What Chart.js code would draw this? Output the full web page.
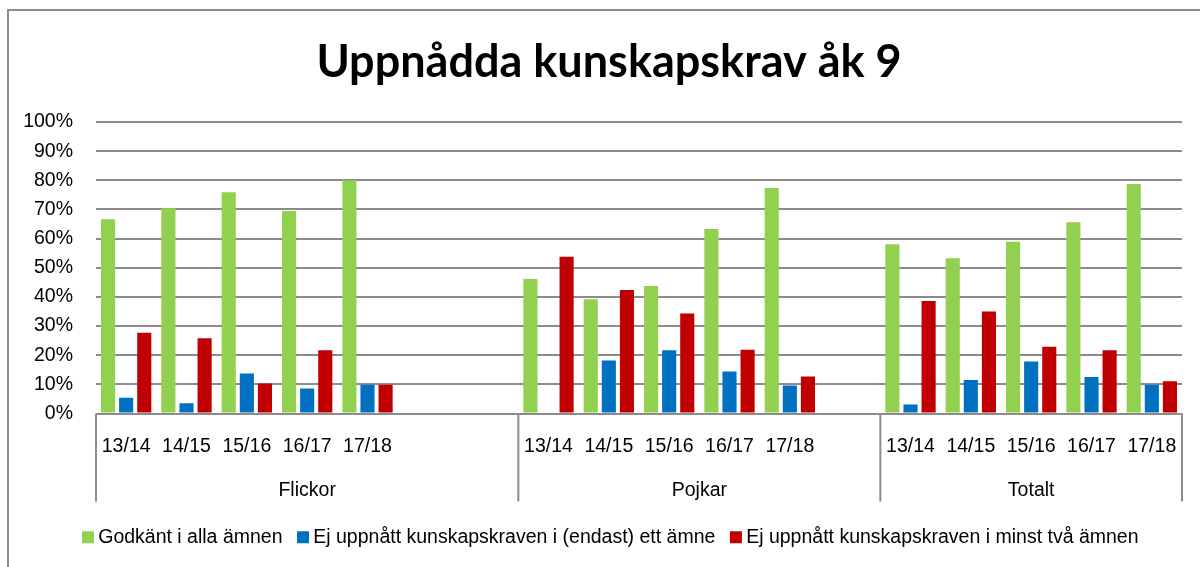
<!DOCTYPE html>
<html><head><meta charset="utf-8">
<script src="https://cdn.jsdelivr.net/npm/chart.js@4.4.1/dist/chart.umd.min.js"></script>
<style>
html,body{margin:0;padding:0;background:#fff;overflow:hidden;width:1200px;height:567px;}
#frame{position:absolute;left:7px;top:9px;width:1300px;height:700px;border:2px solid #8c8c8c;}
#wrap{position:absolute;left:0;top:0;width:1200px;height:567px;}
</style></head><body>
<div id="frame"></div>
<div id="wrap"><canvas id="c" width="1200" height="567"></canvas></div>
<script>
// ---- data ----
const years = ['13/14','14/15','15/16','16/17','17/18'];
const groups = ['Flickor','Pojkar','Totalt'];
const emptySlotsAfter = [2, 1, 0];
const seriesNames = ['Godkänt i alla ämnen','Ej uppnått kunskapskraven i (endast) ett ämne','Ej uppnått kunskapskraven i minst två ämnen'];
const godkantFlickor = [66.6, 70.4, 75.9, 69.5, 80.0];
const godkantPojkar  = [46.1, 39.2, 43.7, 63.3, 77.4];
const godkantTotalt  = [58.1, 53.3, 58.9, 65.6, 78.7];
const ettAmneFlickor = [5.4, 3.5, 13.7, 8.6, 9.9];
const ettAmnePojkar  = [0, 18.2, 21.7, 14.4, 9.6];
const ettAmneTotalt  = [3.1, 11.5, 17.8, 12.5, 9.9];
const tvaAmnenFlickor = [27.7, 25.8, 10.3, 21.7, 9.9];
const tvaAmnenPojkar  = [53.8, 42.4, 34.3, 21.9, 12.7];
const tvaAmnenTotalt  = [38.6, 35.0, 22.9, 21.7, 11.1];
const yTickValues = [0,10,20,30,40,50,60,70,80,90,100];
const seriesColors = ['#92D050','#0070C0','#C00000'];

const labelFamily = '"Liberation Sans", Arial, sans-serif';
const labelSize = 19.5;

// ---- build category layout ----
const groupRanges = [];
function spread(arrs){
  const out = [];
  arrs.forEach((a, g) => {
    const start = out.length;
    out.push(...a);
    groupRanges[g] = {start, end: out.length - 1 + emptySlotsAfter[g]};
    for (let i = 0; i < emptySlotsAfter[g]; i++) out.push(null);
  });
  return out;
}
const xLabels = spread([years, years, years]).map(v => v === null ? '' : v);
const dataSets = [
  spread([godkantFlickor, godkantPojkar, godkantTotalt]),
  spread([ettAmneFlickor, ettAmnePojkar, ettAmneTotalt]),
  spread([tvaAmnenFlickor, tvaAmnenPojkar, tvaAmnenTotalt])
];

const gridColor = '#8c8c8c';

const groupAxisPlugin = {
  id: 'groupAxis',
  afterLayout(chart){
    // nudge title and legend horizontally to match the reference placement
    if (chart.titleBlock) { chart.titleBlock.left += 18; chart.titleBlock.right += 18; }
    if (chart.legend) { chart.legend.left += 22; chart.legend.right += 22; }
  },
  afterDraw(chart){
    const {ctx, chartArea} = chart;
    const x = chart.scales.x;
    const half = (x.getPixelForValue(1) - x.getPixelForValue(0)) / 2;
    const top = chartArea.bottom;
    const bottom = chartArea.bottom + 88;
    ctx.save();
    ctx.strokeStyle = gridColor;
    ctx.lineWidth = 2;
    ctx.fillStyle = '#000';
    ctx.font = labelSize + 'px ' + labelFamily;
    ctx.textAlign = 'center';
    ctx.textBaseline = 'middle';
    groupRanges.forEach((r, i) => {
      const l = x.getPixelForValue(r.start) - half;
      const rr = x.getPixelForValue(r.end) + half;
      ctx.beginPath();
      ctx.moveTo(l, top); ctx.lineTo(l, bottom);
      if (i === groupRanges.length - 1) { ctx.moveTo(rr, top); ctx.lineTo(rr, bottom); }
      ctx.stroke();
      ctx.fillText(groups[i], (l + rr) / 2, top + 77);
    });
    ctx.restore();
  }
};

new Chart(document.getElementById('c'), {
  type: 'bar',
  data: {
    labels: xLabels,
    datasets: dataSets.map((d, i) => ({
      label: seriesNames[i],
      data: d,
      backgroundColor: seriesColors[i],
      borderWidth: 0,
      categoryPercentage: 0.9,
      barPercentage: 0.78
    }))
  },
  options: {
    responsive: false,
    animation: false,
    layout: { padding: { left: 0, right: 18, top: 35, bottom: 10 } },
    plugins: {
      title: {
        display: true,
        text: 'Uppnådda kunskapskrav åk 9',
        color: '#000',
        font: { family: 'Lato, "Open Sans", sans-serif', weight: 'bold', size: 45, lineHeight: 1.2 },
        padding: { top: 0, bottom: 33 }
      },
      legend: {
        position: 'bottom',
        labels: {
          color: '#000',
          font: { family: labelFamily, size: labelSize },
          usePointStyle: true,
          pointStyle: 'rect',
          boxWidth: 1,
          boxHeight: 12,
          padding: 20
        }
      },
      tooltip: { enabled: false }
    },
    scales: {
      x: {
        grid: { display: false, drawTicks: false },
        border: { display: false },
        ticks: { autoSkip: false, maxRotation: 0, minRotation: 0, color: '#000', padding: 21,
                 font: { family: labelFamily, size: labelSize } },
        afterFit(s){ s.height = 94; }
      },
      y: {
        min: 0, max: 100,
        afterBuildTicks(s){ s.ticks = yTickValues.map(v => ({value: v})); },
        ticks: { color: '#000', padding: 23, callback: v => v + '%',
                 font: { family: labelFamily, size: labelSize } },
        grid: { color: gridColor, lineWidth: 2, drawTicks: false },
        border: { display: false },
        afterFit(s){ s.width = 96; }
      }
    }
  },
  plugins: [groupAxisPlugin]
});
</script>
</body></html>
